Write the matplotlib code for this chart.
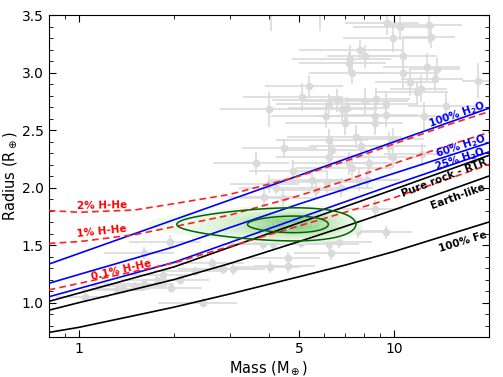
import numpy as np
import matplotlib
matplotlib.use('Agg')
from matplotlib import pyplot as plt
from matplotlib.ticker import FixedLocator, FuncFormatter, NullFormatter, MultipleLocator

# mass grid (Earth masses) on which model radii were read
grid_mass = [0.8, 1, 1.5, 2, 3, 5, 7, 10, 15, 20]

r_fe100 = [0.74, 0.785, 0.887, 0.96, 1.074, 1.225, 1.326, 1.444, 1.594, 1.70]
r_earth = [0.933, 1.0, 1.116, 1.20, 1.339, 1.531, 1.663, 1.807, 1.978, 2.10]
r_rock = [1.01, 1.083, 1.216, 1.31, 1.48, 1.694, 1.835, 1.985, 2.157, 2.28]
r_h2o25 = [1.05, 1.123, 1.256, 1.35, 1.521, 1.736, 1.877, 2.027, 2.192, 2.31]
r_h2o60 = [1.167, 1.245, 1.385, 1.485, 1.651, 1.858, 1.987, 2.124, 2.279, 2.39]
r_h2o100 = [1.334, 1.428, 1.599, 1.72, 1.891, 2.106, 2.248, 2.398, 2.568, 2.69]
r_hhe01 = [1.11, 1.167, 1.271, 1.345, 1.488, 1.667, 1.786, 1.912, 2.079, 2.20]
r_hhe1 = [1.514, 1.53, 1.59, 1.66, 1.76, 1.93, 2.06, 2.21, 2.37, 2.48]
r_hhe2 = [1.80, 1.785, 1.805, 1.86, 1.94, 2.10, 2.23, 2.38, 2.55, 2.66]

# known planets
planet_mass = [9.48, 10.4, 12.9, 13.1, 9.9, 7.8, 8.1, 7.25, 7.2, 10.7,
               12.7, 13.7, 7.37, 10.7, 11.2, 13.5, 18.4, 12.2, 11.8,
               5.38, 5.1, 6.6, 6.23, 7.1, 6.85, 8.1, 8.73, 9.4, 14.6, 4.0,
               3.65, 6.07, 8.67, 9.4, 12.4, 7.0, 8.7, 7.56, 7.85, 9.6,
               9.9, 7.2, 7.37, 8.3, 6.2, 12.3, 5.5, 6.1, 7.75,
               4.48, 4.0, 4.22, 3.87, 4.43, 6.23, 6.37, 8.2, 4.76, 5.65, 6.77, 8.7, 9.9,
               9.4, 7.66, 6.23, 6.3, 4.6, 4.03, 4.6, 3.83, 4.12, 6.7, 5.07,
               2.63, 2.86, 3.08, 2.33, 2.09, 2.48, 1.94, 1.6, 1.85, 1.96,
               1.6, 1.5, 1.38, 1.32, 1.045, 1.76,
               4.07, 5.8]
planet_radius = [3.43, 3.40, 3.41, 3.31, 3.30, 3.20, 3.14, 3.12, 3.08, 3.14,
                 3.05, 3.03, 3.00, 3.00, 2.92, 2.94, 2.93, 2.86, 2.83,
                 2.88, 2.79, 2.76, 2.73, 2.69, 2.68, 2.75, 2.77, 2.73, 2.71, 2.68,
                 2.21, 2.62, 2.62, 2.63, 2.62, 2.56, 2.56, 2.44, 2.36, 2.36,
                 2.27, 2.21, 2.17, 2.21, 2.27, 2.29, 2.07, 2.05, 2.07,
                 2.34, 2.03, 2.00, 1.92, 1.91, 2.41, 2.33, 2.07, 2.14, 1.98, 2.00, 1.81, 2.42,
                 1.61, 1.62, 1.505, 1.43, 1.39, 1.31, 1.32, 1.505, 1.505, 1.53, 1.52,
                 1.34, 1.29, 1.29, 1.27, 1.20, 1.00, 1.525, 1.43, 1.24, 1.13,
                 1.16, 1.14, 1.12, 1.11, 1.05, 1.20,
                 3.56, 3.58]
planet_mass_err = [2.5, 3.0, 3.5, 2.5, 3.0, 2.8, 2.0, 2.5, 2.2, 3.0,
                   3.5, 2.5, 2.0, 3.0, 2.5, 3.0, 2.0, 2.5, 3.0,
                   1.5, 1.8, 2.5, 2.0, 2.5, 2.0, 3.0, 2.5, 2.5, 3.5, 1.2,
                   1.0, 2.0, 3.0, 2.5, 3.0, 2.5, 2.0, 3.0, 2.5, 3.0,
                   2.0, 2.5, 2.5, 2.0, 2.0, 3.0, 1.5, 2.0, 2.5,
                   1.2, 1.0, 1.0, 0.9, 1.2, 2.0, 1.8, 2.2, 1.3, 1.5, 1.8, 2.0, 2.5,
                   2.0, 2.0, 1.5, 1.5, 1.2, 1.0, 1.0, 1.0, 1.0, 1.8, 1.5,
                   0.7, 0.8, 0.8, 0.6, 0.5, 0.7, 0.5, 0.4, 0.4, 0.5,
                   0.4, 0.4, 0.3, 0.3, 0.2, 0.4,
                   1.0, 1.5]
planet_radius_err = [0.10, 0.12, 0.15, 0.10, 0.12, 0.08, 0.10, 0.12, 0.10, 0.15,
                     0.12, 0.10, 0.10, 0.15, 0.12, 0.10, 0.15, 0.12, 0.10,
                     0.10, 0.12, 0.10, 0.08, 0.10, 0.10, 0.12, 0.10, 0.10, 0.12, 0.15,
                     0.10, 0.10, 0.12, 0.10, 0.12, 0.10, 0.10, 0.10, 0.08, 0.12,
                     0.10, 0.10, 0.12, 0.10, 0.10, 0.10, 0.08, 0.10, 0.10,
                     0.08, 0.08, 0.06, 0.07, 0.08, 0.10, 0.08, 0.08, 0.10, 0.07, 0.08, 0.08, 0.10,
                     0.06, 0.06, 0.05, 0.06, 0.05, 0.05, 0.06, 0.05, 0.05, 0.06, 0.05,
                     0.05, 0.04, 0.05, 0.04, 0.04, 0.04, 0.06, 0.05, 0.04, 0.04,
                     0.04, 0.04, 0.03, 0.03, 0.03, 0.04,
                     0.20, 0.22]

# posterior of the target planet (mean, sigma)
post_mass, post_mass_sig = 4.8, 1.38
post_rad, post_rad_sig = 1.68, 0.072

fig = plt.figure(figsize=(5.03, 3.77), dpi=100)
ax = fig.add_axes([0.097, 0.106, 0.875, 0.854])

ax.errorbar(planet_mass, planet_radius, xerr=planet_mass_err, yerr=planet_radius_err,
            fmt='o', color='#dadada', ms=4.5, elinewidth=1.2, capsize=0, zorder=1)

# posterior density
mm, rr = np.meshgrid(np.linspace(0.8, 20, 600), np.linspace(0.7, 3.5, 500))
dens = np.exp(-0.5 * (((mm - post_mass) / post_mass_sig) ** 2 + ((rr - post_rad) / post_rad_sig) ** 2))
ax.contourf(mm, rr, dens, levels=np.linspace(np.exp(-2.6), 1, 25), cmap='Greens',
            vmin=-0.1, vmax=2.2, alpha=0.7, zorder=2)

lw = 1.2
ax.plot(grid_mass, r_fe100, color='k', lw=lw, zorder=3)
ax.plot(grid_mass, r_earth, color='k', lw=lw, zorder=3)
ax.plot(grid_mass, r_rock, color='k', lw=lw, zorder=3)
ax.plot(grid_mass, r_h2o25, color='b', lw=lw, zorder=3)
ax.plot(grid_mass, r_h2o60, color='b', lw=lw, zorder=3)
ax.plot(grid_mass, r_h2o100, color='b', lw=lw, zorder=3)
for r in (r_hhe01, r_hhe1, r_hhe2):
    ax.plot(grid_mass, r, color='#ff2020', lw=lw, ls=(0, (4, 2.5)), zorder=3)

ax.contour(mm, rr, dens, levels=[np.exp(-2), np.exp(-0.5)], colors='darkgreen',
           linewidths=1.1, zorder=4)

kw = dict(fontsize=7.5, fontweight='bold', ha='center', va='center', rotation_mode='anchor')
ax.text(1.18, 1.84, '2% H-He', color='red', rotation=1, **kw)
ax.text(1.18, 1.615, '1% H-He', color='red', rotation=6, **kw)
ax.text(1.36, 1.28, '0.1% H-He', color='red', rotation=13, **kw)
ax.text(15.8, 2.63, r'100% H$_\mathbf{2}$O', color='b', rotation=19, **kw)
ax.text(16.3, 2.36, r'60% H$_\mathbf{2}$O', color='b', rotation=18, **kw)
ax.text(16.2, 2.245, r'25% H$_\mathbf{2}$O', color='b', rotation=18, **kw)
ax.text(14.4, 2.08, 'Pure rock - RTR', color='k', rotation=21, **kw)
ax.text(15.9, 1.92, 'Earth-like', color='k', rotation=20, **kw)
ax.text(16.5, 1.53, '100% Fe', color='k', rotation=17, **kw)

ax.set_xscale('log')
ax.set_xlim(0.8, 20)
ax.set_ylim(0.7, 3.5)
ax.xaxis.set_major_locator(FixedLocator([1, 5, 10]))
ax.xaxis.set_major_formatter(FuncFormatter(lambda v, p: '%g' % v))
ax.xaxis.set_minor_locator(FixedLocator([0.9, 2, 3, 4, 6, 7, 8, 9, 20]))
ax.xaxis.set_minor_formatter(NullFormatter())
ax.yaxis.set_major_locator(MultipleLocator(0.5))
ax.yaxis.set_minor_locator(MultipleLocator(0.1))
ax.tick_params(which='both', direction='in', top=True, right=True, labelsize=10)
ax.tick_params(which='major', length=5)
ax.tick_params(which='minor', length=3)
ax.set_xlabel(r'Mass (M$_\oplus$)', fontsize=10.5, labelpad=2)
ax.set_ylabel(r'Radius (R$_\oplus$)', fontsize=10.5, labelpad=2)

fig.savefig('out.png', dpi=100)
